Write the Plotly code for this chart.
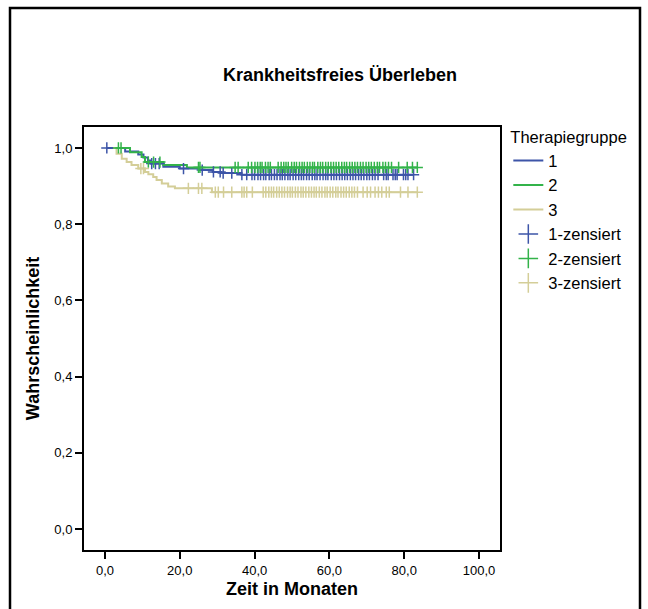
import numpy as np
import plotly.graph_objects as go

groups = ["1", "2", "3"]
colors = ["#3D55A8", "#33B34A", "#D4CE98"]

# Kaplan-Meier step curves (event times and survival after each step)
g1_time = [0.5, 5.4, 8.9, 10.3, 11.5, 12.2, 15.6, 20.0, 25.2, 28.8, 31.0, 36.5, 82.5]
g1_surv = [1.0, 0.991, 0.983, 0.975, 0.967, 0.959, 0.951, 0.946, 0.942, 0.937, 0.934, 0.930, 0.930]

g2_time = [2.5, 6.7, 9.8, 10.7, 15.6, 21.9, 83.5]
g2_surv = [1.0, 0.989, 0.976, 0.963, 0.955, 0.949, 0.949]

g3_time = [2.2, 3.1, 4.5, 5.8, 7.1, 8.9, 10.7, 11.6, 12.9, 13.8, 15.2, 16.9, 18.7, 28.6, 83.5]
g3_surv = [1.0, 0.985, 0.972, 0.963, 0.955, 0.946, 0.937, 0.931, 0.924, 0.916, 0.907, 0.899, 0.894, 0.884, 0.884]

# censored observation times
g1_cens = [0.5, 12.5, 13.5, 14.5, 21.0, 26.0, 29.0, 30.8, 31.6, 33.9, 36.6, 37.9,
           39.3, 40.0, 40.9, 41.6, 42.4, 43.0, 43.9, 44.5, 45.3, 46.0, 46.8, 47.4,
           48.1, 48.9, 49.5, 50.3, 51.0, 51.8, 52.5, 53.1, 53.9, 54.6, 55.4, 56.1,
           56.7, 57.5, 58.3, 59.0, 59.6, 60.5, 61.2, 61.9, 62.7, 63.4, 64.1, 64.8,
           65.6, 66.3, 67.0, 67.8, 68.5, 69.2, 70.0, 70.7, 71.5, 72.2, 73.0, 74.5,
           75.2, 75.7, 77.0, 77.6, 78.1, 79.8, 80.4, 81.0, 82.5]
g2_cens = [3.6, 4.3, 11.6, 13.0, 14.7, 25.0, 25.4, 34.8, 35.6, 38.3,
           39.2, 40.1, 40.8, 41.5, 42.0, 42.9, 43.6, 44.2, 46.3, 47.1, 47.8, 48.4,
           49.0, 49.9, 50.6, 51.2, 52.0, 52.7, 53.3, 54.1, 54.8, 55.5, 56.0, 56.9,
           57.6, 58.2, 59.0, 59.7, 60.4, 61.1, 61.8, 62.5, 63.3, 64.0, 64.6, 65.4,
           66.1, 66.8, 67.5, 68.3, 69.0, 69.8, 70.5, 71.2, 72.0, 72.8, 73.4, 74.3,
           75.0, 75.8, 76.6, 78.5, 80.8, 82.2, 83.5]
g3_cens = [9.6, 10.3, 22.3, 25.0, 25.9, 29.5, 30.3, 31.7, 33.9, 36.6, 37.2, 37.9,
           39.4, 42.3, 43.0, 43.8, 44.5, 45.1, 45.9, 46.6, 47.3, 48.0, 48.8, 49.5,
           50.1, 50.9, 51.6, 52.4, 53.0, 53.7, 54.5, 55.2, 55.9, 56.5, 57.3, 58.0,
           58.8, 59.4, 60.2, 60.9, 61.7, 62.3, 63.1, 63.8, 64.5, 65.3, 66.0, 66.7,
           67.5, 69.0, 70.1, 71.0, 72.2, 73.1, 74.0, 75.2, 76.0, 79.0, 81.0, 83.5]

x_ticks = [0, 20, 40, 60, 80, 100]
x_ticktext = ["0,0", "20,0", "40,0", "60,0", "80,0", "100,0"]
y_ticks = [0.0, 0.2, 0.4, 0.6, 0.8, 1.0]
y_ticktext = ["0,0", "0,2", "0,4", "0,6", "0,8", "1,0"]

FONT = "Liberation Sans, Arial, sans-serif"

times = [g1_time, g2_time, g3_time]
survs = [g1_surv, g2_surv, g3_surv]
cens = [g1_cens, g2_cens, g3_cens]

fig = go.Figure()

for i, g in enumerate(groups):
    fig.add_trace(go.Scatter(
        x=times[i], y=survs[i], mode="lines", line_shape="hv",
        line=dict(color=colors[i], width=2), name=g, legendrank=i + 1,
        hoverinfo="skip"))

for i, g in enumerate(groups):
    t = np.array(times[i]); s = np.array(survs[i]); c = np.array(cens[i])
    idx = np.clip(np.searchsorted(t, c, side="right") - 1, 0, len(s) - 1)
    fig.add_trace(go.Scatter(
        x=c, y=s[idx], mode="markers",
        marker=dict(symbol="cross-thin", size=8, line=dict(color=colors[i], width=1.5)),
        showlegend=False, hoverinfo="skip"))
    # legend entry (larger symbol, as in reference)
    fig.add_trace(go.Scatter(
        x=[None], y=[None], mode="markers", name=g + "-zensiert", legendrank=10 + i,
        marker=dict(symbol="cross-thin", size=14, line=dict(color=colors[i], width=1.5))))

fig.update_layout(
    width=648, height=609,
    margin=dict(l=84, r=148, t=127, b=59),
    paper_bgcolor="white", plot_bgcolor="white",
    font=dict(family=FONT, color="black", size=13),
    title=dict(text="<b>Krankheitsfreies Überleben</b>", x=340 / 648, xref="container",
               y=1 - 75 / 609, yref="container", yanchor="middle", xanchor="center",
               font=dict(size=18, family=FONT, color="black")),
    legend=dict(title=dict(text="Therapiegruppe", font=dict(size=16.5, family=FONT)),
                font=dict(size=16.5, family=FONT), x=1.02, xanchor="left",
                y=1.012, yanchor="top", bgcolor="rgba(0,0,0,0)", tracegroupgap=0),
    showlegend=True,
)

fig.update_xaxes(range=[-5.6, 105.6], tickvals=x_ticks, ticktext=x_ticktext,
                 ticks="outside", ticklen=7, tickwidth=1.5, tickcolor="black",
                 showline=True, linewidth=2, linecolor="black", mirror=True,
                 showgrid=False, zeroline=False,
                 title=dict(text="<b>Zeit in Monaten</b>", font=dict(size=18, family=FONT), standoff=6),
                 tickfont=dict(size=13, family=FONT))
fig.update_yaxes(range=[-0.055, 1.055], tickvals=y_ticks, ticktext=y_ticktext,
                 ticks="outside", ticklen=7, tickwidth=1.5, tickcolor="black",
                 showline=True, linewidth=2, linecolor="black", mirror=True,
                 showgrid=False, zeroline=False,
                 title=dict(text="<b>Wahrscheinlichkeit</b>", font=dict(size=18, family=FONT), standoff=10),
                 tickfont=dict(size=13, family=FONT))

# outer chart border
fig.add_shape(type="rect", xref="paper", yref="paper",
              x0=(10 - 84) / 416, x1=(640 - 84) / 416,
              y0=(550 - 640) / 423, y1=(550 - 8) / 423,
              line=dict(color="black", width=2.5), fillcolor="rgba(0,0,0,0)", layer="below")

fig.write_html("out.html")
